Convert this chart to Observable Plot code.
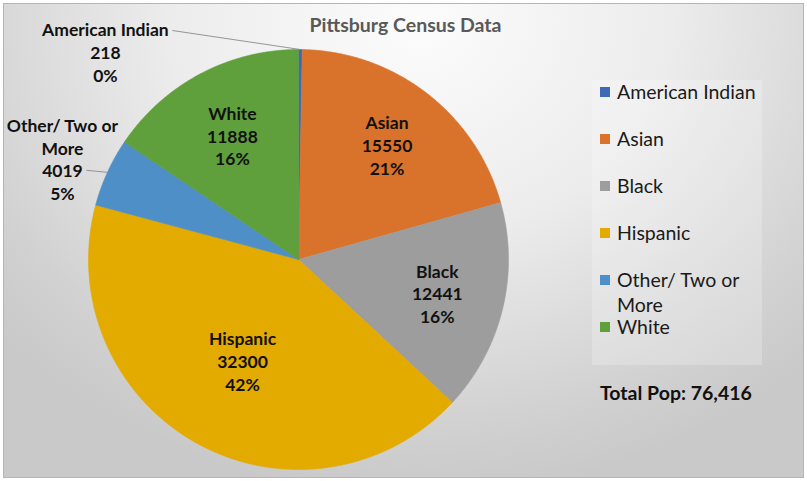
<!DOCTYPE html>
<html><head><meta charset="utf-8">
<script src="https://cdn.jsdelivr.net/npm/d3@7"></script>
<script src="https://cdn.jsdelivr.net/npm/@observablehq/plot@0.6"></script>
<style>
body{margin:0;background:#fff;}
#wrap{position:relative;width:807px;height:481px;background:#fff;font-family:Lato,"Open Sans",sans-serif;overflow:hidden;}
#frame{position:absolute;left:3px;top:3px;width:799px;height:473px;border:1px solid #b5b5b5;
  background:radial-gradient(ellipse 70% 100% at 52% 4%, #fcfcfc 0%, #ececec 45%, #d1d1d1 85%, #c9c9c9 100%);}
#legendbox{position:absolute;left:592px;top:80px;width:170px;height:285px;background:rgba(255,255,255,0.22);}
#chart{position:absolute;left:0;top:0;}
#title{position:absolute;left:2px;top:12px;width:807px;text-align:center;font-size:19.5px;font-weight:700;color:#595959;line-height:26px;}
#legend{position:absolute;left:600px;top:80px;width:190px;}
.item{height:47px;display:flex;align-items:flex-start;}
.sw{width:10px;height:10px;margin-top:7px;margin-right:7px;flex:none;}
.lt{font-size:19.5px;line-height:25px;color:#1a1a1a;margin-top:-1px;white-space:nowrap;}
#total{position:absolute;left:600px;top:380px;font-size:19.5px;font-weight:700;color:#111;line-height:26px;white-space:nowrap;}
</style></head><body>
<div id="wrap">
  <div id="frame"></div>
  <div id="legendbox"></div>
  <div id="chart"></div>
  <div id="title"></div>
  <div id="legend"></div>
  <div id="total"></div>
</div>
<script>
// ---- data ----
const categories = ["American Indian", "Asian", "Black", "Hispanic", "Other/ Two or More", "White"];
const population = [218, 15550, 12441, 32300, 4019, 11888];
const percentLabels = ["0%", "21%", "16%", "42%", "5%", "16%"];
const colors = ["#3D69B8", "#D9722B", "#9D9D9D", "#E3AA00", "#4E8FC8", "#5F9F3C"];
const titleText = "Pittsburg Census Data";
const totalLabel = "Total Pop: ";

// ---- layout (not data) ----
const R = 210; // pie radius in px
const wrapNames = {"Other/ Two or More": "Other/ Two or\nMore"};
const insideRadius = {"Asian": 0.69, "Black": 0.68, "Hispanic": 0.55, "White": 0.67};
const outside = {
  "American Indian": {leader: [-128, -19], text: [-67, 21]},
  "Other/ Two or More": {leader: [-21, -2], text: [-24, -11.5]}
};

const total = d3.sum(population);
const rows = categories.map((c, i) => ({cat: c, value: population[i], pct: percentLabels[i]}));
const arcs = d3.pie().sort(null).value(d => d.value)(rows);

// slice polygons in unit-radius data space (angle clockwise from top)
const slicePts = [];
for (const a of arcs) {
  const cat = a.data.cat;
  slicePts.push({cat, x: 0, y: 0});
  const n = Math.max(2, Math.ceil((a.endAngle - a.startAngle) / 0.005));
  for (let k = 0; k <= n; k++) {
    const t = a.startAngle + (a.endAngle - a.startAngle) * k / n;
    slicePts.push({cat, x: Math.sin(t), y: Math.cos(t)});
  }
  slicePts.push({cat, x: 0, y: 0});
}

const insideLabels = [], outsideLabels = [], leaders = [];
for (const a of arcs) {
  const d = a.data, mid = (a.startAngle + a.endAngle) / 2;
  const name = wrapNames[d.cat] || d.cat;
  const text = `${name}\n${d.value}\n${d.pct}`;
  if (outside[d.cat]) {
    const o = outside[d.cat];
    const ex = Math.sin(mid), ey = Math.cos(mid);
    const px = ex + o.leader[0] / R, py = ey - o.leader[1] / R;
    leaders.push({x1: ex, y1: ey, x2: px, y2: py});
    outsideLabels.push({x: px + o.text[0] / R, y: py - o.text[1] / R, text});
  } else {
    const r = insideRadius[d.cat] || 0.65;
    insideLabels.push({x: r * Math.sin(mid), y: r * Math.cos(mid), text});
  }
}

const chart = Plot.plot({
  width: 807, height: 481,
  marginLeft: 88, marginRight: 299, marginTop: 49, marginBottom: 12,
  x: {domain: [-1, 1], axis: null},
  y: {domain: [-1, 1], axis: null},
  color: {domain: categories, range: colors},
  style: {background: "transparent", overflow: "visible", fontFamily: "Lato, 'Open Sans', sans-serif"},
  marks: [
    Plot.line(slicePts, {x: "x", y: "y", z: "cat", fill: "cat", stroke: "cat", strokeWidth: 0.6, curve: "linear"}),
    Plot.link(leaders, {x1: "x1", y1: "y1", x2: "x2", y2: "y2", stroke: "#8a8a8a", strokeWidth: 0.9}),
    Plot.text(insideLabels, {x: "x", y: "y", text: "text", fontSize: 17.5, fontWeight: 700, fill: "#111", lineHeight: 1.3}),
    Plot.text(outsideLabels, {x: "x", y: "y", text: "text", fontSize: 17.5, fontWeight: 700, fill: "#111", lineHeight: 1.3})
  ]
});
document.getElementById("chart").appendChild(chart);

document.getElementById("title").textContent = titleText;
const colorScale = chart.scale("color");
const legend = document.getElementById("legend");
categories.forEach((c, i) => {
  const item = document.createElement("div");
  item.className = "item";
  const sw = document.createElement("div");
  sw.className = "sw";
  sw.style.background = colorScale.apply(c);
  const lt = document.createElement("div");
  lt.className = "lt";
  lt.innerHTML = (wrapNames[c] || c).replace("\n", "<br>");
  item.appendChild(sw); item.appendChild(lt);
  legend.appendChild(item);
});
document.getElementById("total").textContent = totalLabel + d3.format(",")(total);
</script>
</body></html>
